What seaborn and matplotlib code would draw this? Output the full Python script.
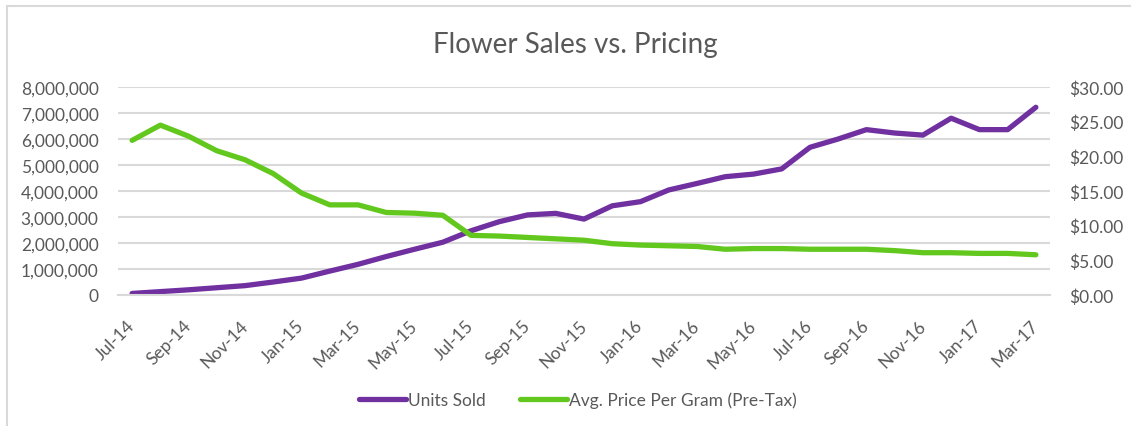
import numpy as np
import pandas as pd
import matplotlib
matplotlib.use('Agg')
import matplotlib.pyplot as plt
import matplotlib.ticker as mticker
from matplotlib.patches import Rectangle
from matplotlib.lines import Line2D
import seaborn as sns

# Monthly data
months = ['Jul-14', 'Aug-14', 'Sep-14', 'Oct-14', 'Nov-14', 'Dec-14',
          'Jan-15', 'Feb-15', 'Mar-15', 'Apr-15', 'May-15', 'Jun-15',
          'Jul-15', 'Aug-15', 'Sep-15', 'Oct-15', 'Nov-15', 'Dec-15',
          'Jan-16', 'Feb-16', 'Mar-16', 'Apr-16', 'May-16', 'Jun-16',
          'Jul-16', 'Aug-16', 'Sep-16', 'Oct-16', 'Nov-16', 'Dec-16',
          'Jan-17', 'Feb-17', 'Mar-17']
units_sold = [60000, 130000, 200000, 280000, 360000, 500000,
              650000, 920000, 1180000, 1480000, 1760000, 2030000,
              2470000, 2820000, 3080000, 3140000, 2920000, 3430000,
              3590000, 4040000, 4290000, 4550000, 4650000, 4850000,
              5680000, 6000000, 6360000, 6230000, 6150000, 6800000,
              6360000, 6360000, 7220000]
avg_price = [22.3, 24.5, 22.9, 20.8, 19.5, 17.5,
             14.7, 13.0, 13.0, 11.9, 11.8, 11.5,
             8.6, 8.5, 8.3, 8.1, 7.9, 7.4,
             7.2, 7.1, 7.0, 6.6, 6.7, 6.7,
             6.6, 6.6, 6.6, 6.4, 6.1, 6.1,
             6.0, 6.0, 5.8]

df = pd.DataFrame({'Month': months, 'Units Sold': units_sold,
                   'Avg. Price Per Gram (Pre-Tax)': avg_price})

sns.set_style('white')
plt.rcParams['font.family'] = ['Lato', 'DejaVu Sans']

purple = '#7030A0'
green = '#62C81E'
grey_text = '#595959'
grid_col = '#D9D9D9'

fig = plt.figure(figsize=(11.31, 4.27), dpi=100)
ax = fig.add_axes([118 / 1131, 1 - 296 / 427, (1050 - 118) / 1131, (296 - 88) / 427])
ax2 = ax.twinx()

sns.lineplot(data=df, x='Month', y='Units Sold', ax=ax, color=purple, lw=3.8,
             sort=False, solid_capstyle='round')
sns.lineplot(data=df, x='Month', y='Avg. Price Per Gram (Pre-Tax)', ax=ax2,
             color=green, lw=3.8, sort=False, solid_capstyle='round')

ax.set_xlim(-0.5, len(months) - 0.5)
ax.set_ylim(0, 8000000)
ax2.set_ylim(0, 30)
ax.set_yticks(np.arange(0, 8000001, 1000000))
ax2.set_yticks(np.arange(0, 31, 5))
ax.yaxis.set_major_formatter(mticker.FuncFormatter(lambda v, p: f'{int(v):,}'))
ax2.yaxis.set_major_formatter(mticker.FuncFormatter(lambda v, p: f'${v:.2f}'))

# labels on every other month, tick marks between categories
ax.set_xticks(range(0, len(months), 2))
ax.set_xticklabels(months[::2], rotation=45, ha='right', va='center',
                   rotation_mode='anchor')
ax.set_xticks(np.arange(-0.5, len(months) - 1, 2), minor=True)
ax.tick_params(axis='x', which='major', length=0, pad=20, labelsize=12.5,
               labelcolor=grey_text)
ax.tick_params(axis='x', which='minor', length=6, width=1.3, color=grid_col)
ax.tick_params(axis='y', length=0, pad=14, labelsize=12.5, labelcolor=grey_text)
ax2.tick_params(axis='y', length=0, pad=14, labelsize=12.5, labelcolor=grey_text)

ax.grid(axis='y', color=grid_col, lw=1.5)
ax.set_axisbelow(True)
ax.set_xlabel('')
ax.set_ylabel('')
ax2.set_ylabel('')
for a in (ax, ax2):
    for s in ('left', 'right', 'top'):
        a.spines[s].set_visible(False)
ax.spines['bottom'].set_color(grid_col)
ax.spines['bottom'].set_linewidth(1.5)
ax2.spines['bottom'].set_visible(False)

fig.text(575 / 1131, 1 - 45 / 427, 'Flower Sales vs. Pricing', ha='center',
         va='center', fontsize=20, color=grey_text)

handles = [Line2D([], [], color=purple, lw=3.8, solid_capstyle='round'),
           Line2D([], [], color=green, lw=3.8, solid_capstyle='round')]
fig.legend(handles, ['Units Sold', 'Avg. Price Per Gram (Pre-Tax)'],
           loc='center', bbox_to_anchor=(578 / 1131, 1 - 401 / 427), ncol=2,
           frameon=False, fontsize=12.5, handlelength=2.7, handletextpad=0.1,
           columnspacing=2.0, labelcolor=grey_text)

fig.patches.append(Rectangle((7 / 1131, -0.1), 1.2, 1.1 - 7 / 427,
                             transform=fig.transFigure, fill=False,
                             edgecolor=grid_col, lw=1.5))

fig.savefig('out.png', dpi=100, facecolor='white')
